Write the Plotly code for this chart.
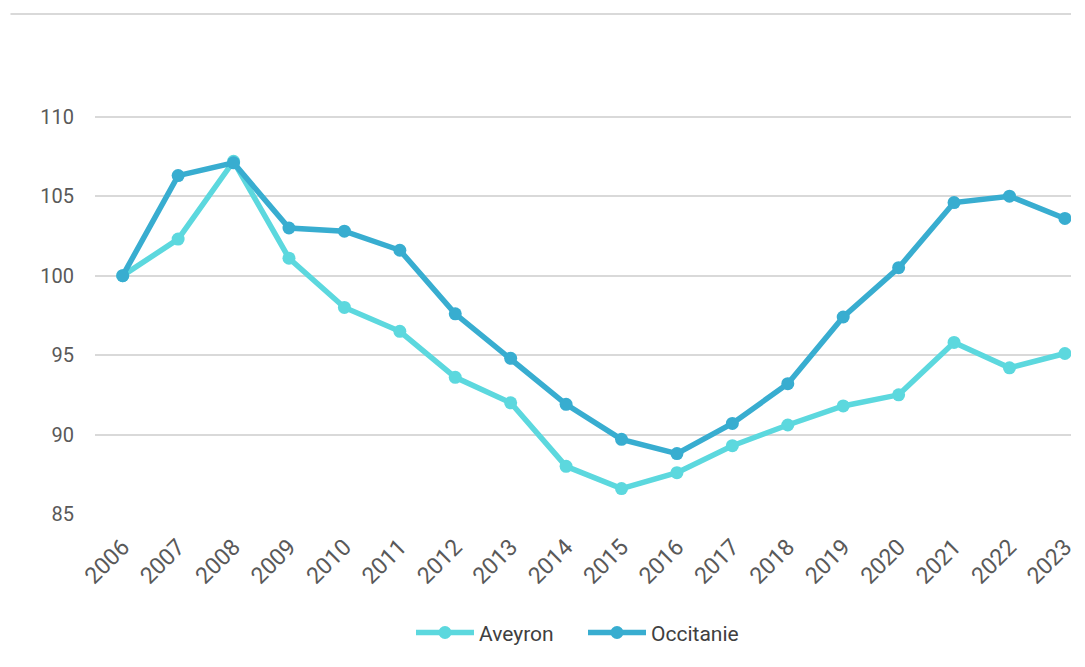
import plotly.graph_objects as go

years = [str(y) for y in range(2006, 2024)]
aveyron = [100.0, 102.3, 107.2, 101.1, 98.0, 96.5, 93.6, 92.0, 88.0, 86.6,
           87.6, 89.3, 90.6, 91.8, 92.5, 95.8, 94.2, 95.1]
occitanie = [100.0, 106.3, 107.1, 103.0, 102.8, 101.6, 97.6, 94.8, 91.9, 89.7,
             88.8, 90.7, 93.2, 97.4, 100.5, 104.6, 105.0, 103.6]
y_ticks = [85, 90, 95, 100, 105, 110]

c_av = "#5CD8DE"
c_oc = "#38ADD0"
font = "Roboto"

fig = go.Figure()
fig.add_trace(go.Scatter(x=years, y=aveyron, name="Aveyron", mode="lines+markers",
                         line=dict(color=c_av, width=5.5),
                         marker=dict(color=c_av, size=13)))
fig.add_trace(go.Scatter(x=years, y=occitanie, name="Occitanie", mode="lines+markers",
                         line=dict(color=c_oc, width=5.5),
                         marker=dict(color=c_oc, size=13)))

fig.update_layout(
    width=1069, height=651,
    margin=dict(l=87, r=0, t=77, b=145),
    paper_bgcolor="white", plot_bgcolor="white",
    font=dict(family=font, color="#595959", size=20),
    showlegend=True,
    legend=dict(orientation="h", x=0.5, xanchor="center", y=-0.277, yanchor="middle",
                font=dict(size=21, color="#404040"), itemwidth=58, traceorder="normal",
                entrywidth=99, entrywidthmode="pixels"),
    xaxis=dict(type="category", range=[-0.5, 17.11], tickangle=-45,
               showgrid=False, showline=False, zeroline=False, ticks="",
               ticklabelstandoff=14,
               tickfont=dict(size=23, color="#595959")),
    yaxis=dict(range=[85, 112], tickvals=y_ticks, showgrid=True,
               gridcolor="#D9D9D9", gridwidth=1.5, zeroline=False, showline=False,
               ticks="", ticklabelstandoff=20,
               tickfont=dict(size=20, color="#595959")),
    shapes=[dict(type="line", xref="paper", yref="paper",
                 x0=-0.0866, x1=1.0, y0=1.1655, y1=1.1655,
                 line=dict(color="#D9D9D9", width=2))],
)

fig.write_html("out.html")
